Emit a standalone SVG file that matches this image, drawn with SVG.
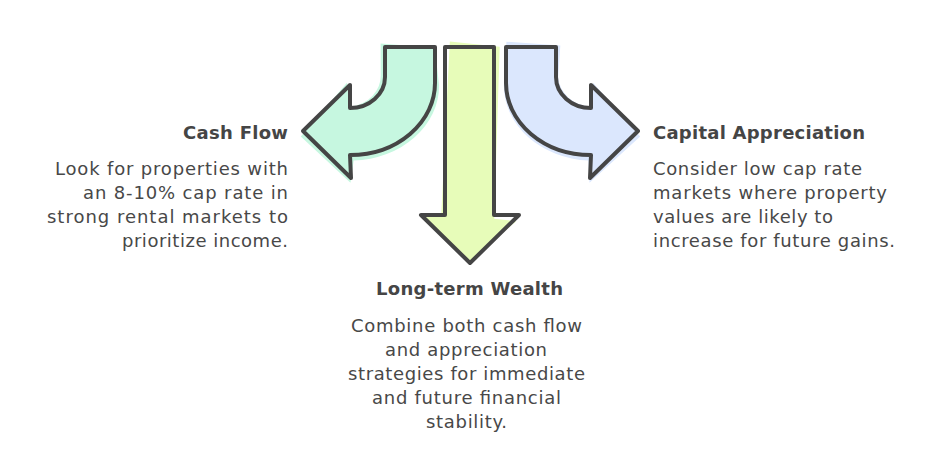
<svg xmlns="http://www.w3.org/2000/svg" width="928" height="459" viewBox="0 0 928 459">
<style>
.out{fill:none;stroke:#454545;stroke-width:4;stroke-linejoin:round;stroke-linecap:round}
.t{font-family:"DejaVu Sans","Liberation Sans",sans-serif;font-size:18px;fill:#484848}
.h{font-family:"DejaVu Sans","Liberation Sans",sans-serif;font-size:18px;font-weight:bold;fill:#454545}
</style>
<rect width="928" height="459" fill="#ffffff"/>
<g id="cash-flow">
<path d="M383,44 L437,50 L440,88 A88,74 0 0 1 352,160 L348,182 L300,134 L348,82 L352,106 A35,31 0 0 0 382,76 Z" fill="#c6f7e0" transform="rotate(-2 370 112)"/>
<path class="out" d="M385,47 L435,47 L435,83 A85,72 0 0 1 350,155 L351,178 L303,131 L350,85 L350,108 A35,31 0 0 0 385,77 Z"/>
<text class="h" x="288" y="139" text-anchor="end" textLength="105" lengthAdjust="spacing">Cash Flow</text>
<text class="t" text-anchor="end"><tspan x="288" y="175" textLength="233" lengthAdjust="spacing">Look for properties with</tspan></text>
<text class="t" text-anchor="end"><tspan x="288" y="199" textLength="205" lengthAdjust="spacing">an 8-10% cap rate in</tspan></text>
<text class="t" text-anchor="end"><tspan x="288" y="223" textLength="241" lengthAdjust="spacing">strong rental markets to</tspan></text>
<text class="t" text-anchor="end"><tspan x="288" y="247" textLength="166" lengthAdjust="spacing">prioritize income.</tspan></text>
</g>
<g id="long-term-wealth">
<path d="M447,42 L497,46 L496,218 L518,220 L472,262 L423,216 L443,214 Z" fill="#e7fcb9" transform="rotate(1.5 470 150)"/>
<path class="out" d="M445,47 L494,47 L494,215 L519,215 L470,263 L421,215 L445,215 Z"/>
<text class="h" x="376" y="295" textLength="187" lengthAdjust="spacing">Long-term Wealth</text>
<text class="t" x="351" y="332" textLength="231" lengthAdjust="spacing">Combine both cash flow</text>
<text class="t" x="385" y="356" textLength="162" lengthAdjust="spacing">and appreciation</text>
<text class="t" x="348" y="380" textLength="237" lengthAdjust="spacing">strategies for immediate</text>
<text class="t" x="372" y="404" textLength="189" lengthAdjust="spacing">and future financial</text>
<text class="t" x="426" y="428" textLength="81" lengthAdjust="spacing">stability.</text>
</g>
<g id="capital-appreciation">
<path d="M504,44 L558,46 L557,78 A35,31 0 0 0 592,106 L592,82 L641,134 L592,182 L590,160 A88,74 0 0 1 503,88 Z" fill="#dbe7fd" transform="rotate(2 572 112)"/>
<path class="out" d="M556,47 L506,47 L506,83 A85,72 0 0 0 591,155 L590,178 L638,131 L591,85 L591,108 A35,31 0 0 1 556,77 Z"/>
<text class="h" x="653" y="139" textLength="212" lengthAdjust="spacing">Capital Appreciation</text>
<text class="t" x="653" y="175" textLength="209" lengthAdjust="spacing">Consider low cap rate</text>
<text class="t" x="653" y="199" textLength="234" lengthAdjust="spacing">markets where property</text>
<text class="t" x="653" y="223" textLength="180" lengthAdjust="spacing">values are likely to</text>
<text class="t" x="653" y="247" textLength="242" lengthAdjust="spacing">increase for future gains.</text>
</g>
<g id="connectors"></g>
</svg>
